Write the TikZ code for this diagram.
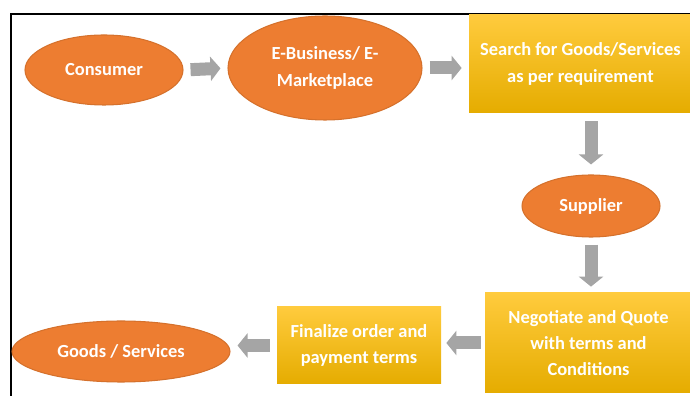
\documentclass[tikz,border=0pt]{standalone}
\usepackage{fontspec}
\setmainfont{Carlito}
\usepackage{xcolor}
\definecolor{ovalorange}{HTML}{ED7D31}
\definecolor{ovaledge}{HTML}{D5712C}
\definecolor{goldtop}{HTML}{FFCB3D}
\definecolor{goldmid}{HTML}{FFC000}
\definecolor{goldbot}{HTML}{E5AC00}
\definecolor{arrowgray}{HTML}{A5A5A5}
\usepackage{tikz}
\usetikzlibrary{positioning, arrows.meta, shapes.geometric, calc}

\begin{document}
\begin{tikzpicture}[
  oval/.style={ellipse, draw=ovaledge, line width=0.6pt, fill=ovalorange,
              inner sep=0pt, text=white, align=center,
              font=\fontsize{10.5}{15}\selectfont\bfseries},
  goldbox/.style={rectangle, top color=goldtop, middle color=goldmid,
              bottom color=goldbot, inner sep=0pt, text=white, align=center,
              font=\fontsize{10.5}{15}\selectfont\bfseries},
  flow/.style={draw=arrowgray, line width=0.26cm,
              -{Triangle[width=0.48cm, length=0.2cm]},
              shorten <=0.14cm, shorten >=0.14cm},
]
\useasboundingbox (0,0) rectangle (13.8,-7.92);

% Frame
\draw[line width=0.8pt] (0.22,-7.92) -- (0.22,-0.28) -- (13.8,-0.28);

% Top row
\node[oval, minimum width=3.16cm, minimum height=1.4cm] (consumer) at (2.08,-1.40) {Consumer};
\node[oval, minimum width=3.88cm, minimum height=2.08cm] (ebiz) at (6.5,-1.36) {E-Business/ E-\\Marketplace};
\node[goldbox, minimum width=4.46cm, minimum height=1.96cm] (search) at (11.61,-1.28) {Search for Goods/Services\\as per requirement};

% Right column
\node[oval, minimum width=2.76cm, minimum height=1.24cm] (supplier) at (11.82,-4.12) {Supplier};
\node[goldbox, minimum width=4.14cm, minimum height=2.0cm] (negotiate) at (11.77,-6.86) {Negotiate and Quote\\with terms and\\Conditions};

% Bottom row
\node[goldbox, minimum width=3.28cm, minimum height=1.54cm] (finalize) at (7.18,-6.91) {Finalize order and\\payment terms};
\node[oval, minimum width=4.36cm, minimum height=1.22cm] (goods) at (2.42,-7.03) {Goods / Services};

% Arrows
\draw[flow] (consumer.east) -- (ebiz.west);
\draw[flow] (ebiz.east) -- (ebiz.east -| search.west);
\draw[flow, shorten <=0.16cm, shorten >=0.2cm] (supplier |- search.south) -- (supplier.north);
\draw[flow, shorten >=0.12cm] (supplier.south) -- (supplier |- negotiate.north);
\draw[flow, shorten <=0.08cm, shorten >=0.1cm] (negotiate.west) -- (negotiate.west -| finalize.east);
\draw[flow] (finalize.west) -- (finalize.west -| goods.east);
\end{tikzpicture}
\end{document}
